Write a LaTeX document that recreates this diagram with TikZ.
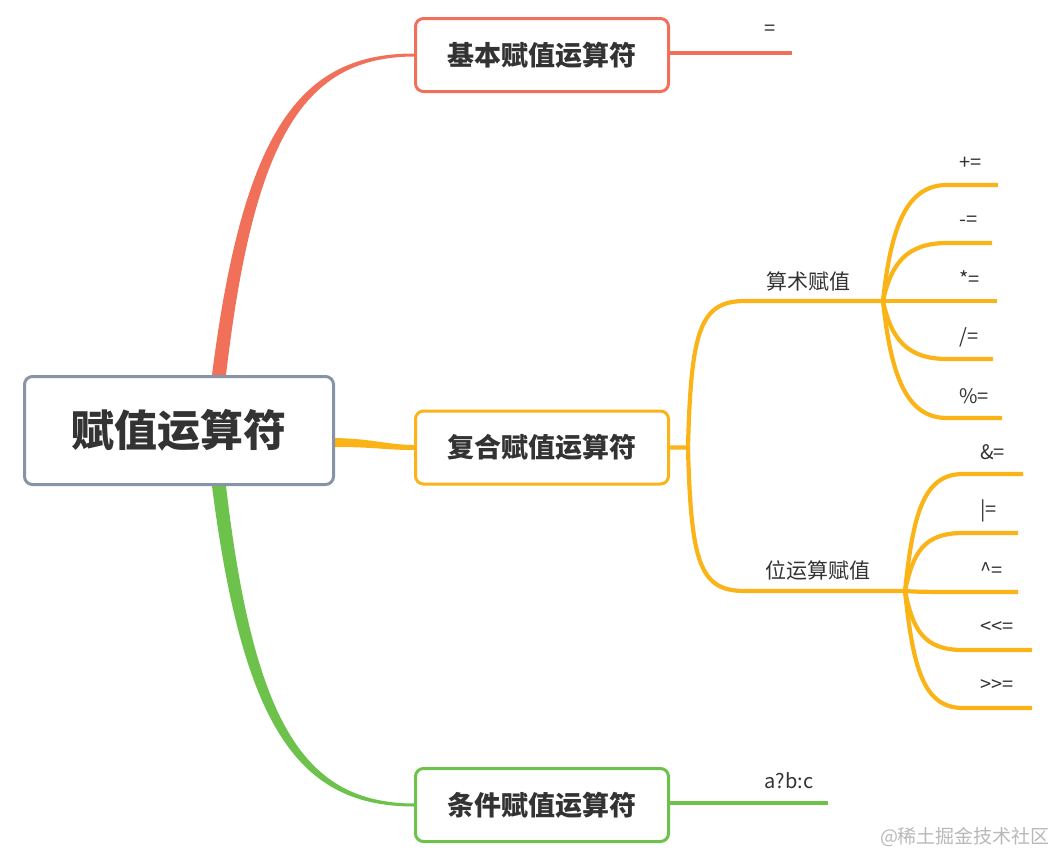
\documentclass[tikz,border=0pt]{standalone}
\usepackage{fontspec}
\setmainfont{Noto Sans CJK SC}
\usepackage{tikz}
\usetikzlibrary{calc,positioning,backgrounds}
\definecolor{rootline}{HTML}{8794A8}
\definecolor{redline}{HTML}{F0705A}
\definecolor{orangeline}{HTML}{FBB418}
\definecolor{greenline}{HTML}{6CC24A}
\definecolor{textgray}{HTML}{333333}
\definecolor{markgray}{HTML}{B8B8B8}
\tikzset{
  rootbox/.style={draw=rootline,line width=3pt,rounded corners=8pt,fill=white,minimum width=309pt,minimum height=108pt,font=\fontsize{43}{48}\selectfont\bfseries,text=textgray},
  mainbox/.style={line width=3pt,rounded corners=8pt,fill=white,minimum width=253pt,minimum height=73pt,font=\fontsize{27}{32}\selectfont\bfseries,text=textgray},
  sublabel/.style={font=\fontsize{21}{25}\selectfont,text=textgray},
  leaflabel/.style={font=\fontsize{20}{24}\selectfont,text=textgray,anchor=west,inner sep=0pt},
  branch/.style={line width=4.2pt},
}

\begin{document}
\begin{tikzpicture}[x=1pt,y=-1pt]
  \useasboundingbox (0,0) rectangle (1053,855);
  \node[rootbox] (root) at (179,430.5) {赋值运算符};
  \node[mainbox,draw=redline] (b1) at (542,55) {基本赋值运算符};
  \node[mainbox,draw=orangeline] (b2) at (542,447.5) {复合赋值运算符};
  \node[mainbox,draw=greenline] (b3) at (542,805) {条件赋值运算符};
  \begin{scope}[on background layer]
    % tapered main branches
    \fill[redline] ($(root.north)+(33,0)$) .. controls (243,130) and (300,53.5) .. ($(b1.west)+(0,-1.5)$)
      -- ($(b1.west)+(0,1.5)$) .. controls (305,57) and (254,135) .. ($(root.north)+(47,0)$) -- cycle;
    \fill[greenline] ($(root.south)+(33,0)$) .. controls (243,730) and (300,806.5) .. ($(b3.west)+(0,1.5)$)
      -- ($(b3.west)+(0,-1.5)$) .. controls (305,803) and (254,725) .. ($(root.south)+(47,0)$) -- cycle;
    \fill[orangeline] ($(root.east)+(0,7.5)$) .. controls (375,439) and (385,444.5) .. ($(b2.west)+(0,-2.5)$)
      -- ($(b2.west)+(0,2.5)$) .. controls (385,450) and (375,447) .. ($(root.east)+(0,16.5)$) -- cycle;
  \end{scope}

  \draw[redline,line width=4pt] ($(b1.east)+(0,-2)$) -- ++(122,0) coordinate (eq);
  \node[sublabel,font=\fontsize{20}{24}\selectfont] (eqt) at (770,30) {=};
  \draw[greenline,line width=4pt] ($(b3.east)+(0,-2)$) -- ++(158,0) coordinate (tern);
  \node[sublabel,font=\fontsize{20}{24}\selectfont] (ternt) at (789,781) {a?b:c};

  \coordinate (j2) at (688,447.5);
  \coordinate (ar) at (883,301);
  \coordinate (bt) at (905,591);
  \node[sublabel] (art) at (808,281) {算术赋值};
  \node[sublabel] (btt) at (818,570) {位运算赋值};
  \draw[orangeline,branch] (b2.east) -- (j2) .. controls (691,330) and (700,301) .. (745,301) -- (ar);
  \draw[orangeline,branch] (j2) .. controls (691,564) and (700,591) .. (745,591) -- (bt);

  \foreach \y/\e/\t [count=\i] in {185/998/{+=},243/992/{-=},301/997/{*=},359/993/{/=},418/1002/{\%=}}{
    \coordinate (ae\i) at (\e,\y);
    \node[leaflabel] (al\i) at (959,\y-22) {\t};
    \draw[orangeline,branch] (ar) .. controls +(8,{0.65*(\y-301)}) and +(-40,0) .. (947,\y) -- (ae\i);}
  \foreach \y/\e/\t [count=\i] in {474/1023/{\&=},533/1018/{|=},592/1018/{\textasciicircum=},650/1032/{{<}{<}=},708/1032/{{>}{>}=}}{
    \coordinate (be\i) at (\e,\y);
    \node[leaflabel] (bl\i) at (980,\y-22) {\t};
    \draw[orangeline,branch] (bt) .. controls +(8,{0.65*(\y-591)}) and +(-40,0) .. (963,\y) -- (be\i);}

  \node[text=markgray,font=\fontsize{19}{22}\selectfont] (mark) at (965,837) {@稀土掘金技术社区};
\end{tikzpicture}
\end{document}
